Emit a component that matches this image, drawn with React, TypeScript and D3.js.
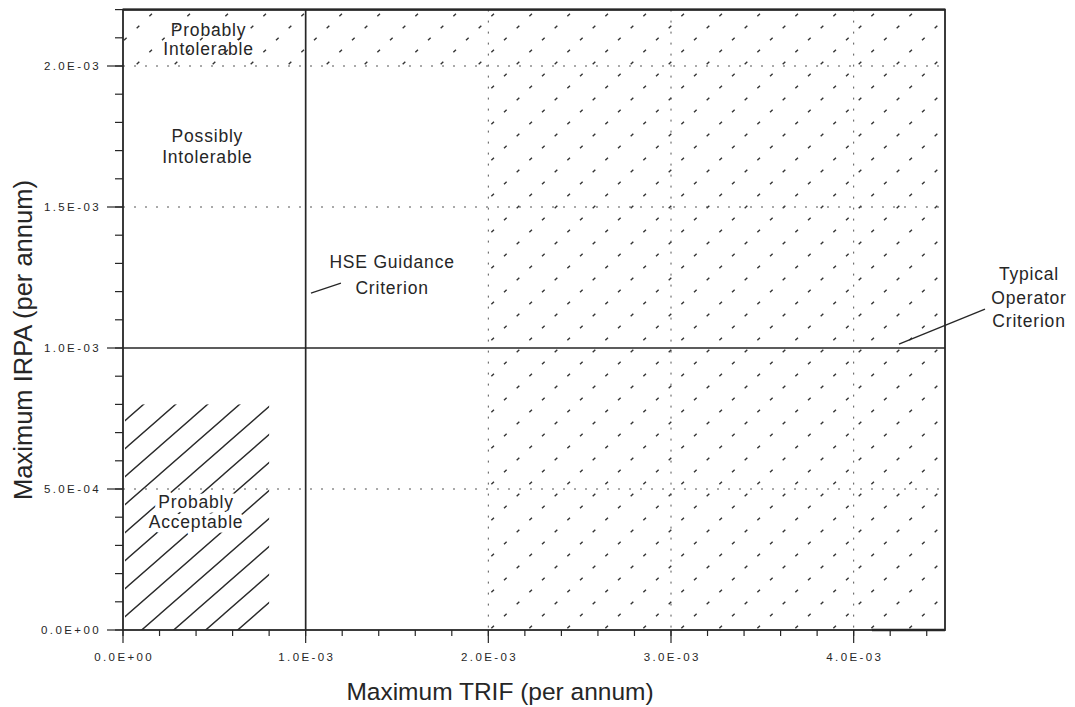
import React from "react";
import * as d3 from "d3";

// axis ranges (per annum)
const trifMax = 4.5e-3;
const irpaMax = 2.2e-3;

// labelled ticks
const trifTicks = [0, 1e-3, 2e-3, 3e-3, 4e-3];
const trifTickLabels = ["0.0E+00", "1.0E-03", "2.0E-03", "3.0E-03", "4.0E-03"];
const irpaTicks = [0, 5e-4, 1e-3, 1.5e-3, 2e-3];
const irpaTickLabels = ["0.0E+00", "5.0E-04", "1.0E-03", "1.5E-03", "2.0E-03"];

// minor tick steps
const trifMinorStep = 2e-4;
const irpaMinorStep = 1e-4;

// dotted grid
const trifGrid = [2e-3, 3e-3, 4e-3];
const irpaGrid = [5e-4, 1.5e-3, 2e-3];

// criteria
const hseTrifCriterion = 1e-3;
const operatorIrpaCriterion = 1e-3;

// zones
const intolerableIrpa = 2e-3; // above: probably intolerable
const intolerableTrif = 2e-3; // right of: probably intolerable
const acceptableTrif = 8e-4;
const acceptableIrpa = 8e-4;

const FONT = "'Liberation Sans', Arial, Helvetica, sans-serif";
const INK = "#262626";

export default function App() {
  const width = 1075;
  const height = 707;
  const margin = { top: 9.6, right: 130, bottom: 77, left: 123 };

  const x = d3
    .scaleLinear()
    .domain([0, trifMax])
    .range([margin.left, width - margin.right]);
  const y = d3
    .scaleLinear()
    .domain([0, irpaMax])
    .range([height - margin.bottom, margin.top]);

  const trifMinor = d3
    .range(0, Math.round(trifMax / trifMinorStep) + 1)
    .map((i) => i * trifMinorStep);
  const irpaMinor = d3
    .range(0, Math.round(irpaMax / irpaMinorStep) + 1)
    .map((i) => i * irpaMinorStep);

  const x0 = x(0);
  const x1 = x(trifMax);
  const y0 = y(0);
  const y1 = y(irpaMax);

  // dotted hatch tile
  const dw = 38;
  const dh = 36;
  const dots = [0, 1, 2].map((i) => [dw / 6 + (i * dw) / 3, dh - dh / 6 - (i * dh) / 3]);

  // solid hatch tile
  const hw = 32;
  const hh = 28;

  const tickFont = { fontFamily: FONT, fontSize: 11.5, letterSpacing: 2.4, fill: INK };
  const noteFont = { fontFamily: FONT, fontSize: 17.5, letterSpacing: 0.8, fill: INK };

  const note = (lines: string[], tx: number, ty: number, step: number, halo = false) => (
    <text
      x={x(tx)}
      y={y(ty)}
      textAnchor="middle"
      {...noteFont}
      stroke={halo ? "#fff" : "none"}
      strokeWidth={halo ? 9 : 0}
      strokeLinejoin="round"
      style={{ paintOrder: "stroke" }}
    >
      {lines.map((l, i) => (
        <tspan key={l} x={x(tx)} dy={i === 0 ? 0 : step}>
          {l}
        </tspan>
      ))}
    </text>
  );

  return (
    <div style={{ position: "absolute", left: 0, top: 0 }}>
      <svg width={width} height={height} style={{ display: "block", background: "#fff" }}>
        <defs>
          <pattern
            id="dotted"
            patternUnits="userSpaceOnUse"
            width={dw}
            height={dh}
            patternTransform="translate(5,9)"
          >
            {dots.map(([cx, cy], i) => (
              <line
                key={i}
                x1={cx - 1.3}
                y1={cy + 1.3}
                x2={cx + 1.3}
                y2={cy - 1.3}
                stroke="#333"
                strokeWidth={1.4}
              />
            ))}
          </pattern>
          <pattern
            id="hatch"
            patternUnits="userSpaceOnUse"
            width={hw}
            height={hh}
            patternTransform="translate(0,-2)"
          >
            <path
              d={`M0,${hh} L${hw},0 M${-hw / 2},${hh / 2} L${hw / 2},${-hh / 2} M${hw / 2},${
                (3 * hh) / 2
              } L${(3 * hw) / 2},${hh / 2}`}
              stroke="#2a2a2a"
              strokeWidth={1.4}
              fill="none"
            />
          </pattern>
        </defs>

        {/* probably intolerable zones */}
        <rect
          x={x0}
          y={y1}
          width={x1 - x0}
          height={y(intolerableIrpa) - y1}
          fill="url(#dotted)"
        />
        <rect
          x={x(intolerableTrif)}
          y={y(intolerableIrpa)}
          width={x1 - x(intolerableTrif)}
          height={y0 - y(intolerableIrpa)}
          fill="url(#dotted)"
        />

        {/* probably acceptable zone */}
        <rect
          x={x0 + 2}
          y={y(acceptableIrpa)}
          width={x(acceptableTrif) - x0 - 2}
          height={y0 - y(acceptableIrpa)}
          fill="url(#hatch)"
        />

        {/* dotted grid */}
        {irpaGrid.map((v) => (
          <line
            key={`gy${v}`}
            x1={x0}
            x2={x1}
            y1={y(v)}
            y2={y(v)}
            stroke="#555"
            strokeWidth={1}
            strokeDasharray="2 9"
          />
        ))}
        {trifGrid.map((v) => (
          <line
            key={`gx${v}`}
            x1={x(v)}
            x2={x(v)}
            y1={y1}
            y2={y0}
            stroke="#555"
            strokeWidth={1}
            strokeDasharray="2 9"
          />
        ))}

        {/* criteria lines */}
        <line
          x1={x(hseTrifCriterion)}
          x2={x(hseTrifCriterion)}
          y1={y1}
          y2={y0}
          stroke={INK}
          strokeWidth={1.7}
        />
        <line
          x1={x0}
          x2={x1}
          y1={y(operatorIrpaCriterion)}
          y2={y(operatorIrpaCriterion)}
          stroke={INK}
          strokeWidth={1.7}
        />

        {/* frame */}
        <rect x={x0} y={y1} width={x1 - x0} height={y0 - y1} fill="none" stroke={INK} strokeWidth={1.8} />
        <line x1={x0} x2={x1} y1={y1} y2={y1} stroke={INK} strokeWidth={2.4} />
        <line x1={x(4.1e-3)} x2={x1} y1={y0} y2={y0} stroke={INK} strokeWidth={2.6} />

        {/* x ticks */}
        {trifMinor.map((v) => (
          <line key={`xm${v}`} x1={x(v)} x2={x(v)} y1={y0} y2={y0 + 6} stroke={INK} strokeWidth={1.2} />
        ))}
        {trifTicks.map((v, i) => (
          <g key={`xt${v}`}>
            <line x1={x(v)} x2={x(v)} y1={y0} y2={y0 + 13} stroke={INK} strokeWidth={1.2} />
            <text x={x(v) + 1.2} y={y0 + 31} textAnchor="middle" {...tickFont}>
              {trifTickLabels[i]}
            </text>
          </g>
        ))}

        {/* y ticks */}
        {irpaMinor.map((v) => (
          <line key={`ym${v}`} x1={x0 - 8} x2={x0} y1={y(v)} y2={y(v)} stroke={INK} strokeWidth={1.2} />
        ))}
        {irpaTicks.map((v, i) => (
          <g key={`yt${v}`}>
            <line x1={x0 - 16} x2={x0} y1={y(v)} y2={y(v)} stroke={INK} strokeWidth={1.2} />
            <text x={x0 - 22} y={y(v) + 4} textAnchor="end" {...tickFont}>
              {irpaTickLabels[i]}
            </text>
          </g>
        ))}

        {/* zone and criterion notes */}
        {note(["Probably", "Intolerable"], 0.468e-3, 2.106e-3, 19)}
        {note(["Possibly", "Intolerable"], 0.462e-3, 1.73e-3, 21)}
        {note(["Probably", "Acceptable"], 0.4e-3, 0.433e-3, 20, true)}
        {note(["HSE Guidance", "Criterion"], 1.473e-3, 1.284e-3, 26)}
        {note(["Typical", "Operator", "Criterion"], 4.96e-3, 1.241e-3, 23.5)}

        <line
          x1={x(1.029e-3)}
          y1={y(1.195e-3)}
          x2={x(1.193e-3)}
          y2={y(1.23e-3)}
          stroke={INK}
          strokeWidth={1.3}
        />
        <line
          x1={x(4.248e-3)}
          y1={y(1.014e-3)}
          x2={x(4.719e-3)}
          y2={y(1.138e-3)}
          stroke={INK}
          strokeWidth={1.3}
        />

        {/* axis titles */}
        <text x={500} y={700} textAnchor="middle" fontFamily={FONT} fontSize={24.5} fill={INK}>
          Maximum TRIF (per annum)
        </text>
        <text
          transform="translate(32,340) rotate(-90)"
          textAnchor="middle"
          fontFamily={FONT}
          fontSize={25.5}
          fill={INK}
        >
          Maximum IRPA (per annum)
        </text>
      </svg>
    </div>
  );
}
